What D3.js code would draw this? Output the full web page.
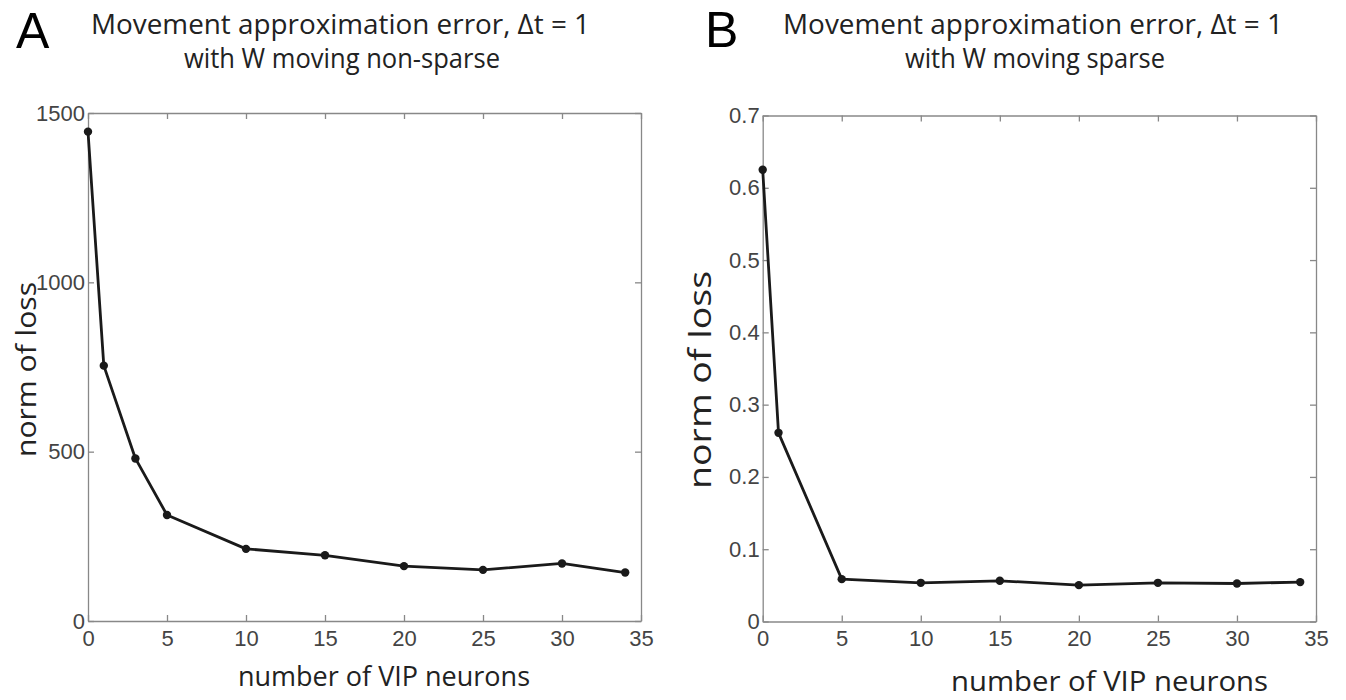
<!DOCTYPE html>
<html>
<head>
<meta charset="utf-8">
<script src="https://cdn.jsdelivr.net/npm/d3@7.9.0/dist/d3.min.js"></script>
<style>
  html, body { margin: 0; padding: 0; background: #fff; }
  svg { display: block; }
  .tick text { font-family: "Liberation Sans", Arial, sans-serif; font-size: 22px; fill: #444; }
  .domain, .tick line { stroke: #888; stroke-width: 1.3; }
  .label { font-family: "Open Sans", "Noto Sans", sans-serif; fill: #222; }
</style>
</head>
<body>
<svg id="chart" width="1346" height="700"></svg>
<script>
// ---- data ----
const vipNonSparse = [0, 1, 3, 5, 10, 15, 20, 25, 30, 34];
const lossNonSparse = [1445, 754, 480, 313, 213, 194, 162, 151, 170, 143];

const vipSparse = [0, 1, 5, 10, 15, 20, 25, 30, 34];
const lossSparse = [0.625, 0.261, 0.0586, 0.0535, 0.0563, 0.0503, 0.0535, 0.0526, 0.0545];

const xTicks = [0, 5, 10, 15, 20, 25, 30, 35];
const yTicksNonSparse = [0, 500, 1000, 1500];
const yTicksSparse = [0, 0.1, 0.2, 0.3, 0.4, 0.5, 0.6, 0.7];

const titleLine1 = 'Movement approximation error,  \u0394t = 1';
const subtitles = ['with W moving non-sparse', 'with W moving sparse'];
const panelLetters = ['A', 'B'];
const xLabel = 'number of VIP neurons';
const yLabel = 'norm of loss';

const svg = d3.select('#chart');

// layout of each panel (pixel boxes measured on the reference)
const panels = [
  {
    letter: panelLetters[0], xs: vipNonSparse, ys: lossNonSparse,
    yMax: 1500, yTicks: yTicksNonSparse, fmt: d => String(d),
    box: { left: 88, right: 641, top: 113, bottom: 621 },
    letterPos: [16, 48],
    title: { x: 91, w: 499, sx: 184, sw: 316 },
    xl: { x: 238, w: 292, y: 686, size: 27 },
    yl: { x: 36, y0: 282, y1: 457, size: 28 },
  },
  {
    letter: panelLetters[1], xs: vipSparse, ys: lossSparse,
    yMax: 0.7, yTicks: yTicksSparse, fmt: d => (d === 0 ? '0' : d.toFixed(1)),
    box: { left: 762.7, right: 1316, top: 115.5, bottom: 621.5 },
    letterPos: [705, 47],
    title: { x: 783, w: 500, sx: 905, sw: 260 },
    xl: { x: 951, w: 317, y: 691, size: 28 },
    yl: { x: 711, y0: 271, y1: 489, size: 31 },
  },
];

function drawPanel(p, idx) {
  const b = p.box;
  const x = d3.scaleLinear().domain([0, 35]).range([b.left, b.right]);
  const y = d3.scaleLinear().domain([0, p.yMax]).range([b.bottom, b.top]);
  const g = svg.append('g');

  // MATLAB style box: ticks point inward on all four sides
  g.append('g')
    .attr('transform', `translate(0,${b.bottom})`)
    .call(d3.axisBottom(x).tickValues(xTicks).tickSizeInner(-6).tickSizeOuter(0).tickPadding(9));
  g.append('g')
    .attr('transform', `translate(0,${b.top})`)
    .call(d3.axisTop(x).tickValues(xTicks).tickSizeInner(-6).tickSizeOuter(0).tickFormat(''));
  g.append('g')
    .attr('transform', `translate(${b.left},0)`)
    .call(d3.axisLeft(y).tickValues(p.yTicks).tickSizeInner(-6).tickSizeOuter(0).tickPadding(3).tickFormat(p.fmt));
  g.append('g')
    .attr('transform', `translate(${b.right},0)`)
    .call(d3.axisRight(y).tickValues(p.yTicks).tickSizeInner(-6).tickSizeOuter(0).tickFormat(''));

  const pts = p.xs.map((v, i) => [v, p.ys[i]]);
  const line = d3.line().x(d => x(d[0])).y(d => y(d[1]));

  g.append('path')
    .datum(pts)
    .attr('d', line)
    .attr('fill', 'none')
    .attr('stroke', '#1a1a1a')
    .attr('stroke-width', 2.8)
    .attr('stroke-linejoin', 'round');

  g.selectAll('circle.pt')
    .data(pts)
    .enter()
    .append('circle')
    .attr('class', 'pt')
    .attr('cx', d => x(d[0]))
    .attr('cy', d => y(d[1]))
    .attr('r', 4.2)
    .attr('fill', '#1a1a1a');

  // panel letter
  svg.append('text')
    .attr('x', p.letterPos[0])
    .attr('y', p.letterPos[1])
    .attr('font-family', '"Liberation Sans", Arial, sans-serif')
    .attr('font-size', 50)
    .attr('fill', '#000')
    .text(p.letter);

  // two-line title
  svg.append('text')
    .attr('class', 'label')
    .attr('x', p.title.x).attr('y', 34)
    .attr('font-size', 27)
    .attr('textLength', p.title.w)
    .attr('lengthAdjust', 'spacingAndGlyphs')
    .attr('fill', '#333')
    .text(titleLine1);
  svg.append('text')
    .attr('class', 'label')
    .attr('x', p.title.sx).attr('y', 68)
    .attr('font-size', 27)
    .attr('textLength', p.title.sw)
    .attr('lengthAdjust', 'spacingAndGlyphs')
    .attr('fill', '#333')
    .text(subtitles[idx]);

  // axis labels
  svg.append('text')
    .attr('class', 'label')
    .attr('x', p.xl.x).attr('y', p.xl.y)
    .attr('font-size', p.xl.size)
    .attr('textLength', p.xl.w)
    .attr('lengthAdjust', 'spacingAndGlyphs')
    .text(xLabel);

  svg.append('text')
    .attr('class', 'label')
    .attr('transform', `translate(${p.yl.x},${p.yl.y1}) rotate(-90)`)
    .attr('font-size', p.yl.size)
    .attr('textLength', p.yl.y1 - p.yl.y0)
    .attr('lengthAdjust', 'spacingAndGlyphs')
    .text(yLabel);
}

panels.forEach(drawPanel);
</script>
</body>
</html>
